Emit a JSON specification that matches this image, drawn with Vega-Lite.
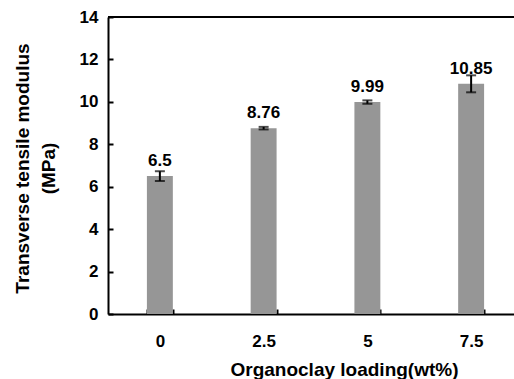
{
  "$schema": "https://vega.github.io/schema/vega-lite/v6.json",
  "width": 406,
  "height": 297,
  "autosize": {"type": "none"},
  "padding": {"left": 108, "top": 17, "right": 0, "bottom": 65},
  "background": "white",
  "config": {
    "view": {"stroke": null},
    "font": "Liberation Sans",
    "axis": {"grid": false, "domainColor": "black", "domainWidth": 2, "tickColor": "black", "tickWidth": 2, "labelColor": "black", "titleColor": "black", "labelFont": "Liberation Sans", "titleFont": "Liberation Sans", "labelFontWeight": "bold", "titleFontWeight": "bold", "labelFontSize": 17, "titleFontSize": 19}
  },
  "data": {
    "values": [
      {"loading": "0", "modulus": 6.5, "lo": 6.27, "hi": 6.73, "label": "6.5"},
      {"loading": "2.5", "modulus": 8.76, "lo": 8.7, "hi": 8.82, "label": "8.76"},
      {"loading": "5", "modulus": 9.99, "lo": 9.91, "hi": 10.07, "label": "9.99"},
      {"loading": "7.5", "modulus": 10.85, "lo": 10.45, "hi": 11.25, "label": "10.85"}
    ]
  },
  "layer": [
    {
      "mark": {"type": "bar", "color": "#969696"},
      "encoding": {
        "x": {
          "field": "loading",
          "type": "ordinal",
          "sort": null,
          "scale": {"domain": ["0", "2.5", "5", "7.5"], "range": [0, 415], "paddingInner": 0.75, "paddingOuter": 0.375},
          "axis": {"title": "Organoclay loading(wt%)", "labelAngle": 0, "tickBand": "extent", "tickSize": -5, "labelPadding": 24, "titleX": 236, "titleY": 61, "titleBaseline": "alphabetic", "titleAlign": "center"}
        },
        "y": {
          "field": "modulus",
          "type": "quantitative",
          "scale": {"domain": [0, 14]},
          "axis": {"values": [0, 2, 4, 6, 8, 10, 12, 14], "tickSize": -5, "labelPadding": 15, "title": ["Transverse tensile modulus", "(MPa)"], "titleLineHeight": 26, "titleX": -86, "titleY": 151, "titleBaseline": "middle", "titleAlign": "center", "titleAngle": -90}
        }
      }
    },
    {
      "mark": {"type": "rule", "color": "black", "strokeWidth": 2},
      "encoding": {"x": {"field": "loading", "type": "ordinal", "sort": null}, "y": {"field": "lo", "type": "quantitative"}, "y2": {"field": "hi"}}
    },
    {
      "mark": {"type": "tick", "color": "black", "thickness": 2, "size": 10},
      "encoding": {"x": {"field": "loading", "type": "ordinal", "sort": null}, "y": {"field": "lo", "type": "quantitative"}}
    },
    {
      "mark": {"type": "tick", "color": "black", "thickness": 2, "size": 10},
      "encoding": {"x": {"field": "loading", "type": "ordinal", "sort": null}, "y": {"field": "hi", "type": "quantitative"}}
    },
    {
      "mark": {"type": "text", "dy": -10, "baseline": "alphabetic", "fontWeight": "bold", "fontSize": 17, "color": "black"},
      "encoding": {"x": {"field": "loading", "type": "ordinal", "sort": null}, "y": {"field": "modulus", "type": "quantitative"}, "text": {"field": "label"}}
    },
    {
      "mark": {"type": "rule", "color": "black", "strokeWidth": 2},
      "encoding": {"y": {"datum": 14}}
    }
  ]
}
